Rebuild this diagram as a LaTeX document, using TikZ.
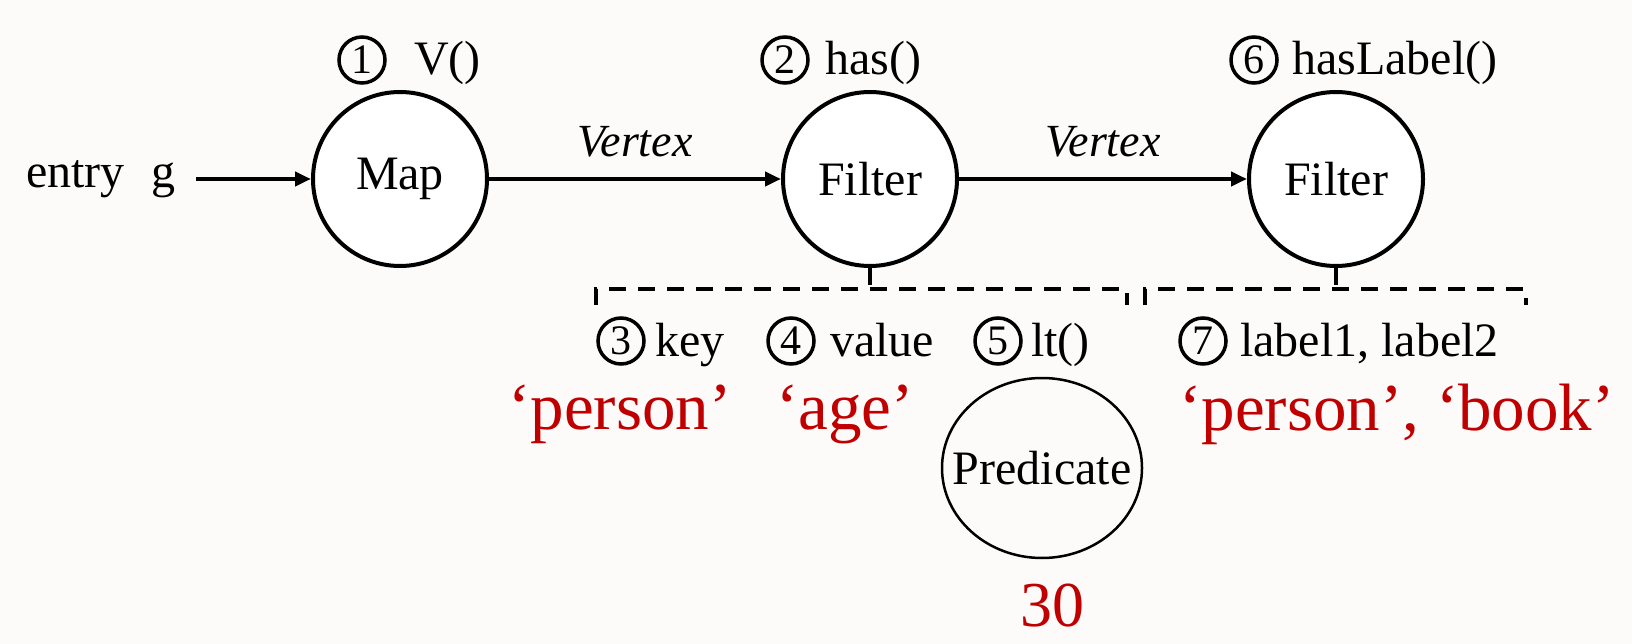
\documentclass[tikz,border=0pt]{standalone}
\usepackage{fontspec}
\setmainfont{Liberation Serif}
\usetikzlibrary{arrows.meta}
\definecolor{paper}{RGB}{252,251,249}
\definecolor{valred}{RGB}{192,0,0}
\tikzset{
  op/.style={circle,draw,line width=4pt,fill=white,minimum size=174pt,inner sep=0pt,font=\fontsize{48}{56}\selectfont},
  txt/.style={inner sep=0pt,font=\fontsize{48}{56}\selectfont},
  vlab/.style={inner sep=0pt,font=\fontsize{46}{54}\selectfont\itshape},
  redval/.style={inner sep=0pt,text=valred,font=\fontsize{67}{74}\selectfont},
  num/.style={circle,draw,line width=3.5pt,inner sep=0pt,minimum size=46pt,font=\fontsize{42}{48}\selectfont},
  flow/.style={line width=4pt,-{Triangle[length=16pt,width=14pt]}},
  brk/.style={line width=4pt,dash pattern=on 17pt off 12pt},
}
\begin{document}
\begin{tikzpicture}[x=1pt,y=-1pt]
\useasboundingbox (0,0) rectangle (1632,644);
\fill[paper] (0,0) rectangle (1632,644);

% operators
\node[op] (map) at (400,179) {Map};
\node[op] (f1) at (870,179) {Filter};
\node[op] (f2) at (1336,179) {Filter};
\node[txt,anchor=west] (entry) at (26,179) {entry\hspace{0.55em}g};

\draw[flow] (entry.east) ++(21,0) coordinate (es) -- (map);
\draw[flow] (map) -- node[vlab,above=20pt] (v1) {Vertex} (f1);
\draw[flow] (f1) -- node[vlab,above=20pt] (v2) {Vertex} (f2);

% step labels above the operators
\node[num] (n1) at (362,60) {1};
\node[txt,anchor=base west] (t1) at (414,75) {V()};
\node[num] (n2) at (785,60) {2};
\node[txt,anchor=base west] (t2) at (825,75) {has()};
\node[num] (n6) at (1254,60) {6};
\node[txt,anchor=base west] (t6) at (1292,75) {hasLabel()};

% argument brackets
\coordinate (b1) at (870,289);
\coordinate (b2) at (1336,289);
\draw[brk] (f1.south) -- (b1);
\draw[brk] (f2.south) -- (b2);
\draw[brk] (596,305) -- (596,289) -- (1127,289) -- (1127,305);
\draw[brk] (1145,305) -- (1145,289) -- (1526,289) -- (1526,305);

% arguments of has()
\node[num] (n3) at (621,341) {3};
\node[txt,anchor=base west] (t3) at (655,356) {key};
\node[num] (n4) at (791,341) {4};
\node[txt,anchor=base west] (t4) at (830,356) {value};
\node[num] (n5) at (998,341) {5};
\node[txt,anchor=base west] (t5) at (1031,356) {lt()};

% arguments of hasLabel()
\node[num] (n7) at (1203,341) {7};
\node[txt,anchor=base west] (t7) at (1240,356) {label1, label2};

% values
\node[redval] (r1) at (620,414) {‘person’};
\node[redval] (r2) at (845,414) {‘age’};
\node[redval] (r3) at (1397,414) {‘person’, ‘book’};

\node[inner sep=0pt,font=\fontsize{48}{56}\selectfont] (pred) at (1042,468) {Predicate};
\draw[line width=2.5pt] (pred.center) ellipse [x radius=100, y radius=90];
\node[redval,font=\fontsize{64}{70}\selectfont] (r4) at (1052,606) {30};
\end{tikzpicture}
\end{document}
